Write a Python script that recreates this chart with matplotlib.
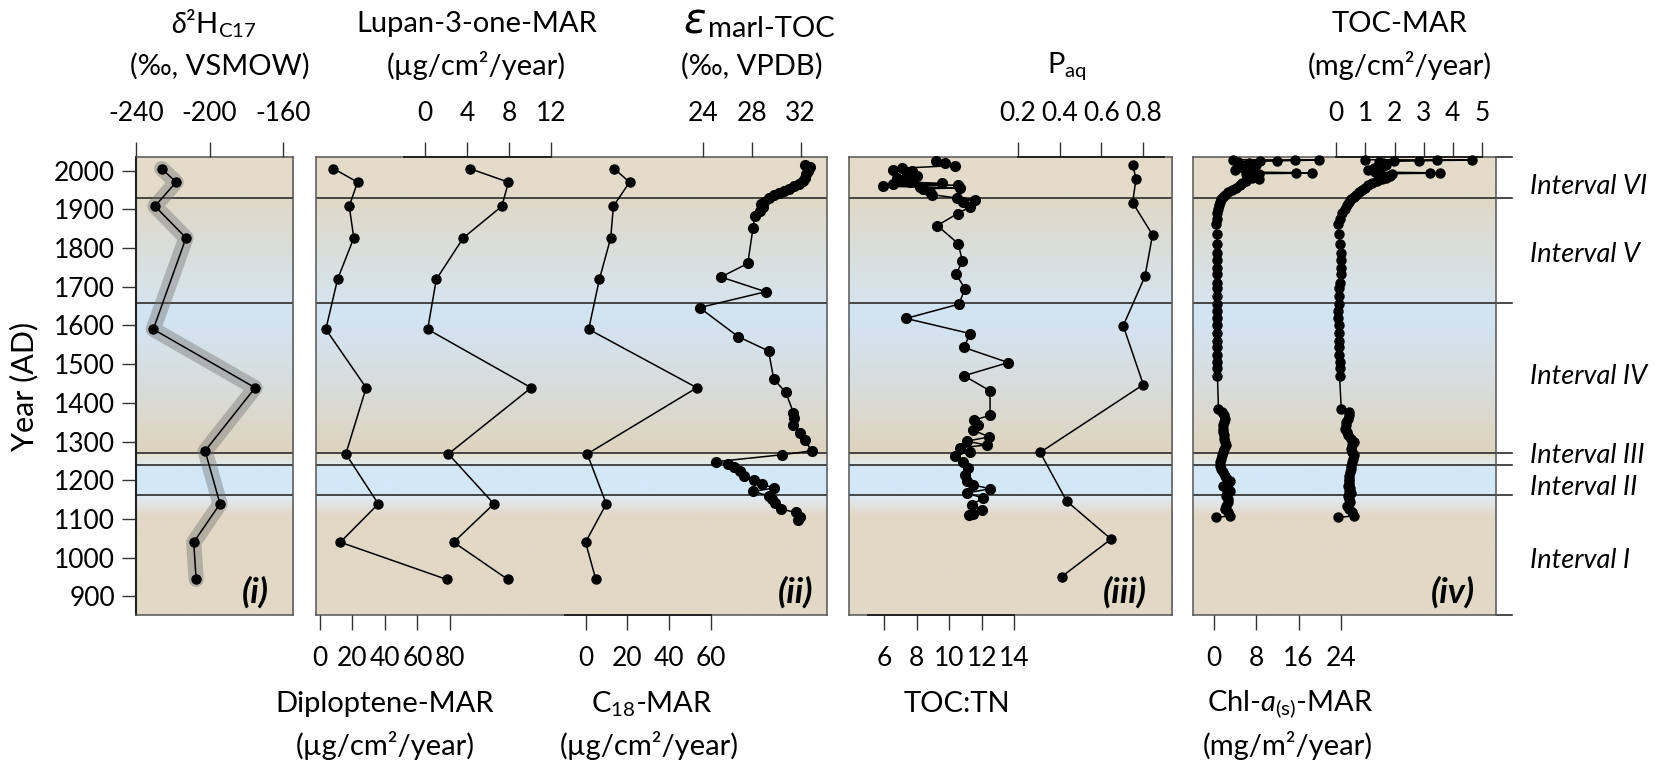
import numpy as np
import matplotlib
matplotlib.use("Agg")
import matplotlib.pyplot as plt
import matplotlib.transforms as mtransforms

plt.rcParams['font.family'] = ['Lato', 'DejaVu Sans']
plt.rcParams['mathtext.fontset'] = 'custom'
plt.rcParams['mathtext.rm'] = 'Lato'
plt.rcParams['mathtext.it'] = 'Lato:italic'
plt.rcParams['mathtext.bf'] = 'Lato:bold'
plt.rcParams['axes.unicode_minus'] = False

# ---------------- data ----------------
year_ticks = list(range(900, 2001, 100))
boundaries = [1929, 1657, 1271, 1240, 1162]
interval_names = ["Interval VI", "Interval V", "Interval IV", "Interval III", "Interval II", "Interval I"]
interval_label_years = [1958, 1784, 1468, 1264, 1182, 992]

# panel (i)
d2h_year = [2005, 1970, 1908, 1826, 1590, 1439, 1276, 1139, 1040, 944]
d2h_val = [-226, -218.2, -229.7, -212.8, -230.6, -175.2, -202.4, -194.3, -208.6, -207.3]
d2h_ticks = [-240, -200, -160]

# panel (ii)
bio_year = [2005, 1970, 1908, 1826, 1719, 1590, 1439, 1268, 1139, 1040, 944]
diplo_val = [8.3, 23.1, 18.0, 20.8, 10.8, 3.6, 28.4, 15.9, 35.9, 12.5, 77.9]
lupan_val = [4.27, 7.95, 7.33, 3.65, 1.08, 0.26, 10.12, 2.23, 6.57, 2.73, 7.89]
c18_val = [13.6, 21.0, 13.3, 12.0, 6.6, 1.5, 53.1, 0.8, 9.9, 0.0, 4.9]
diplo_ticks = [0, 20, 40, 60, 80]
lupan_ticks = [0, 4, 8, 12]
c18_ticks = [0, 20, 40, 60]

eps_year = [2015, 2008, 1999, 1991, 1981, 1974, 1965, 1959, 1953, 1948, 1942, 1936, 1929,
            1920, 1914, 1905, 1896, 1882, 1852, 1760, 1725, 1687, 1646, 1571, 1534, 1461,
            1427, 1375, 1360, 1343, 1323, 1304, 1276, 1266, 1248, 1242, 1233, 1225, 1212,
            1201, 1190, 1180, 1171, 1160, 1152, 1141, 1126, 1117, 1106, 1098]
eps_val = [32.34, 32.76, 32.62, 32.48, 32.34, 32.2, 31.86, 31.49, 31.07, 30.64, 30.22, 29.8, 29.37,
           29.03, 28.75, 28.95, 28.66, 28.24, 28.1, 27.67, 25.47, 29.14, 23.72, 26.88, 29.37, 29.8,
           30.78, 31.41, 31.49, 31.41, 31.97, 32.34, 32.9, 30.5, 25.05, 26.04, 26.54, 27.05, 27.39,
           28.18, 28.86, 29.8, 28.1, 29.37, 29.65, 29.94, 30.36, 31.58, 31.92, 31.77]
eps_ticks = [24, 28, 32]

# panel (iii)
paq_year = [2015, 1979, 1917, 1834, 1727, 1599, 1447, 1272, 1146, 1048, 951]
paq_val = [0.749, 0.765, 0.749, 0.844, 0.808, 0.704, 0.800, 0.307, 0.434, 0.646, 0.410]
paq_ticks = [0.2, 0.4, 0.6, 0.8]

tn_year = [2024, 2019, 2013, 2006, 2001, 1998, 1991, 1987, 1980, 1975, 1970, 1967, 1965, 1962,
           1960, 1957, 1955, 1953, 1944, 1938, 1929, 1925, 1920, 1906, 1889, 1858, 1811, 1766,
           1732, 1695, 1655, 1618, 1579, 1543, 1504, 1470, 1431, 1368, 1355, 1344, 1329, 1312,
           1301, 1291, 1284, 1274, 1263, 1248, 1231, 1214, 1197, 1188, 1178, 1167, 1154, 1137,
           1123, 1112, 1110]
tn_val = [9.19, 9.74, 10.36, 7.08, 6.57, 7.70, 7.39, 8.01, 6.78, 7.08, 7.60, 9.54, 6.57, 10.56,
          5.96, 8.21, 10.66, 8.41, 8.82, 8.93, 10.46, 11.59, 10.87, 11.28, 10.52, 9.27, 10.56, 10.81,
          10.42, 10.97, 10.60, 7.35, 11.28, 10.91, 13.63, 10.91, 12.51, 12.51, 11.52, 11.79, 11.48, 12.47,
          11.07, 12.30, 10.66, 11.28, 10.36, 10.87, 11.18, 10.97, 11.07, 11.48, 12.51, 11.07, 12.10, 11.38,
          11.99, 11.48, 11.24]
tn_ticks = [6, 8, 10, 12, 14]

# panel (iv)
mar_year = [2028, 2027, 2026, 2025, 2024, 2023, 2019, 2015, 2011, 2007, 2002, 1996, 1994, 1993,
            1992, 1990, 1986, 1982, 1977, 1972, 1967, 1962, 1956, 1950, 1944, 1938, 1932, 1926,
            1918, 1910, 1901, 1890, 1876, 1861, 1837, 1811, 1788, 1768, 1748, 1734, 1710, 1697,
            1677, 1656, 1638, 1619, 1600, 1580, 1561, 1543, 1524, 1506, 1489, 1470, 1383, 1377,
            1368, 1359, 1350, 1342, 1333, 1325, 1316, 1307, 1299, 1290, 1281, 1273, 1264, 1255,
            1247, 1238, 1229, 1221, 1212, 1203, 1197, 1190, 1186, 1180, 1173, 1166, 1160, 1151,
            1143, 1134, 1126, 1117, 1108, 1104]
chl_val = [3.6, 19.8, 15.3, 12.0, 8.7, 4.6, 6.5, 8.0, 7.0, 5.5, 4.0, 7.5, 18.5, 15.6,
           8.5, 6.0, 8.0, 7.2, 8.5, 6.0, 5.2, 4.8, 4.2, 3.3, 2.7, 2.0, 1.6, 1.3,
           1.0, 0.85, 0.75, 0.6, 0.45, 0.35, 0.45, 0.55, 0.55, 0.55, 0.6, 0.6, 0.6, 0.6,
           0.6, 0.6, 0.5, 0.45, 0.45, 0.45, 0.45, 0.45, 0.45, 0.6, 0.6, 0.6, 0.8, 1.4,
           1.9, 2.1, 1.8, 1.7, 1.6, 1.6, 1.8, 1.9, 2.1, 2.2, 1.9, 1.7, 1.4, 1.2,
           1.1, 1.1, 1.3, 1.6, 2.0, 2.4, 2.9, 2.6, 1.7, 2.4, 2.9, 2.5, 2.3, 2.6,
           2.7, 2.3, 2.0, 2.6, 3.0, 0.3]
toc_val = [1.0, 4.64, 3.44, 2.82, 1.97, 1.45, 1.6, 1.7, 1.55, 1.3, 1.1, 1.34, 3.56, 3.22,
           1.9, 1.5, 1.85, 1.7, 1.57, 1.4, 1.23, 1.1, 1.0, 0.88, 0.77, 0.68, 0.6, 0.52,
           0.45, 0.375, 0.3, 0.2, 0.13, 0.07, 0.09, 0.11, 0.15, 0.17, 0.16, 0.15, 0.11, 0.09,
           0.09, 0.09, 0.07, 0.07, 0.09, 0.09, 0.09, 0.09, 0.09, 0.11, 0.11, 0.11, 0.17, 0.43,
           0.45, 0.40, 0.33, 0.32, 0.30, 0.35, 0.40, 0.49, 0.60, 0.55, 0.52, 0.55, 0.60, 0.57,
           0.55, 0.49, 0.50, 0.46, 0.45, 0.45, 0.43, 0.45, 0.40, 0.48, 0.43, 0.50, 0.40, 0.43,
           0.48, 0.38, 0.45, 0.55, 0.60, 0.07]
chl_ticks = [0, 8, 16, 24]
toc_ticks = [0, 1, 2, 3, 4, 5]

# ---------------- layout / style ----------------
W, H = 1668, 767
fig = plt.figure(figsize=(W / 100, H / 100), dpi=100)
YLIM = (852, 2035)
TOP, BOT = 157, 615
TICKFS = 19
TITLEFS = 21
LINEC = '#2b2b2b'

bg_stops = [
    (852, (226, 216, 198)), (1110, (226, 216, 198)), (1150, (226, 233, 238)),
    (1161.9, (220, 234, 244)), (1162.1, (211, 232, 248)), (1239.9, (211, 232, 248)),
    (1240.1, (224, 234, 238)), (1270.9, (232, 224, 207)), (1271.1, (221, 211, 191)),
    (1300, (222, 213, 195)), (1450, (216, 221, 220)), (1600, (211, 227, 240)),
    (1656.9, (210, 228, 243)), (1657.1, (214, 228, 238)), (1800, (218, 222, 218)),
    (1928.9, (224, 216, 199)), (1929.1, (228, 219, 202)), (2035, (228, 219, 202)),
]


def background(ax, xlim):
    ys = np.linspace(YLIM[0], YLIM[1], 1200)
    sy = [s[0] for s in bg_stops]
    img = np.zeros((len(ys), 2, 3))
    for c in range(3):
        col = np.interp(ys, sy, [s[1][c] / 255 for s in bg_stops])
        img[:, :, c] = col[:, None]
    ax.imshow(img, extent=[xlim[0], xlim[1], YLIM[0], YLIM[1]], origin='lower',
              aspect='auto', zorder=0, interpolation='bilinear')


def make_panel(x0, x1, extend=False):
    ax = fig.add_axes([x0 / W, 1 - BOT / H, (x1 - x0) / W, (BOT - TOP) / H])
    background(ax, (0, 1))
    ax.set_xlim(0, 1)
    ax.set_ylim(*YLIM)
    for b in boundaries:
        ax.axhline(b, color=LINEC, lw=1.2, zorder=2)
    for s in ax.spines.values():
        s.set_color('#555555')
        s.set_linewidth(1.1)
    ax.set_xticks([])
    ax.set_yticks([])
    if extend:
        ext = (1512 - x0) / (x1 - x0)
        tr = mtransforms.blended_transform_factory(ax.transAxes, ax.transData)
        for b in boundaries:
            ax.plot([1, ext], [b, b], color=LINEC, lw=1.2, transform=tr, clip_on=False)
        for yy in (0, 1):
            ax.plot([1, ext], [yy, yy], color=LINEC, lw=1.2, transform=ax.transAxes, clip_on=False)
    return ax


def series_axis(base, xlim, side, ticks, bounds=None):
    t = base.twiny()
    t.set_xlim(*xlim)
    t.set_ylim(*YLIM)
    for s in t.spines.values():
        s.set_visible(False)
    t.xaxis.set_ticks_position(side)
    t.xaxis.set_label_position(side)
    t.set_xticks(ticks)
    t.tick_params(axis='x', direction='out', length=11, width=1.0, color='#333333',
                  labelsize=TICKFS, pad=11)
    if bounds is not None:
        sp = t.spines[side]
        sp.set_visible(True)
        sp.set_bounds(*bounds)
        sp.set_color('#222222')
        sp.set_linewidth(1.4)
    return t


def plot_series(t, x, y, ms=6.5):
    t.plot(x, y, '-o', color='k', lw=1.1, ms=ms, zorder=5, clip_on=False)


def panel_label(ax, text, x0, x1, rpad):
    ax.text(1 - rpad / (x1 - x0), 0.015, text, transform=ax.transAxes, ha='right', va='bottom',
            fontsize=25, fontweight='bold', fontstyle='italic', zorder=10)


# Panel (i)
p1 = (136, 293)
ax1 = make_panel(*p1)
ax1.set_yticks(year_ticks)
ax1.tick_params(axis='y', direction='out', length=10, width=1.0, color='#333333',
                labelsize=TICKFS, pad=5)
ax1.spines['left'].set_color('#222222')
ax1.spines['left'].set_linewidth(1.5)
t1 = series_axis(ax1, (-240, -154.6), 'top', d2h_ticks)
t1.plot(d2h_val, d2h_year, color='#6e6e6e', alpha=0.4, lw=11, solid_joinstyle='round',
        solid_capstyle='round', zorder=3)
plot_series(t1, d2h_val, d2h_year)
panel_label(ax1, '(i)', *p1, 24)

# Panel (ii)
p2 = (316, 827)
ax2 = make_panel(*p2)
t2a = series_axis(ax2, (-2.46, 312), 'bottom', diplo_ticks)
plot_series(t2a, diplo_val, bio_year)
t2b = series_axis(ax2, (-10.38, 38.3), 'top', lupan_ticks, bounds=(-2, 12))
plot_series(t2b, lupan_val, bio_year)
t2c = series_axis(ax2, (-128.6, 115.2), 'bottom', c18_ticks, bounds=(-10, 60))
plot_series(t2c, c18_val, bio_year)
t2d = series_axis(ax2, (-7.7, 34.16), 'top', eps_ticks)
plot_series(t2d, eps_val, eps_year, ms=7)
panel_label(ax2, '(ii)', *p2, 14)

# Panel (iii)
p3 = (849, 1172)
ax3 = make_panel(*p3)
t3a = series_axis(ax3, (3.85, 23.68), 'bottom', tn_ticks, bounds=(5, 14))
plot_series(t3a, tn_val, tn_year, ms=7)
t3b = series_axis(ax3, (-0.606, 0.937), 'top', paq_ticks, bounds=(0.2, 0.9))
plot_series(t3b, paq_val, paq_year)
panel_label(ax3, '(iii)', *p3, 25)

# Panel (iv)
p4 = (1193, 1496)
ax4 = make_panel(*p4, extend=True)
t4a = series_axis(ax4, (-4.04, 53.5), 'bottom', chl_ticks)
plot_series(t4a, chl_val, mar_year)
t4b = series_axis(ax4, (-4.92, 5.48), 'top', toc_ticks, bounds=(0, 5))
plot_series(t4b, toc_val, mar_year)
panel_label(ax4, '(iv)', *p4, 21)

trl = mtransforms.blended_transform_factory(ax4.transAxes, ax4.transData)
lx = (1530 - p4[0]) / (p4[1] - p4[0])
for name, yy in zip(interval_names, interval_label_years):
    ax4.text(lx, yy, name, transform=trl, ha='left', va='center', fontsize=19.5,
             fontstyle='italic', clip_on=False)

# ---------------- titles ----------------
def ftext(x, y, s, **kw):
    kw.setdefault('fontsize', TITLEFS)
    kw.setdefault('ha', 'center')
    kw.setdefault('va', 'center')
    fig.text(x / W, 1 - y / H, s, **kw)

ftext(24, 386, 'Year (AD)', rotation=90, fontsize=22)

ftext(214, 24, r'$\delta$²H$_{\mathregular{C17}}$')
ftext(220, 66, '(‰, VSMOW)')
ftext(477, 24, 'Lupan-3-one-MAR')
ftext(476, 66, '(µg/cm²/year)')
ftext(706, 33, 'ε', fontsize=30, fontstyle='italic', ha='right', va='baseline',
      family=['DejaVu Sans'])
ftext(708, 37, 'marl-TOC', ha='left', va='baseline')
ftext(752, 66, '(‰, VPDB)')
ftext(1067, 66, r'P$_{\mathregular{aq}}$')
ftext(1399, 24, 'TOC-MAR')
ftext(1400, 66, '(mg/cm²/year)')

ftext(385, 704, 'Diploptene-MAR')
ftext(385, 745, '(µg/cm²/year)')
ftext(652, 704, r'C$_{\mathregular{18}}$-MAR')
ftext(649, 745, '(µg/cm²/year)')
ftext(957, 704, 'TOC:TN')
ftext(1290, 704, r'Chl-$\mathit{a}_{\mathregular{(s)}}$-MAR')
ftext(1288, 745, '(mg/m²/year)')

fig.savefig('out.png', dpi=100)
